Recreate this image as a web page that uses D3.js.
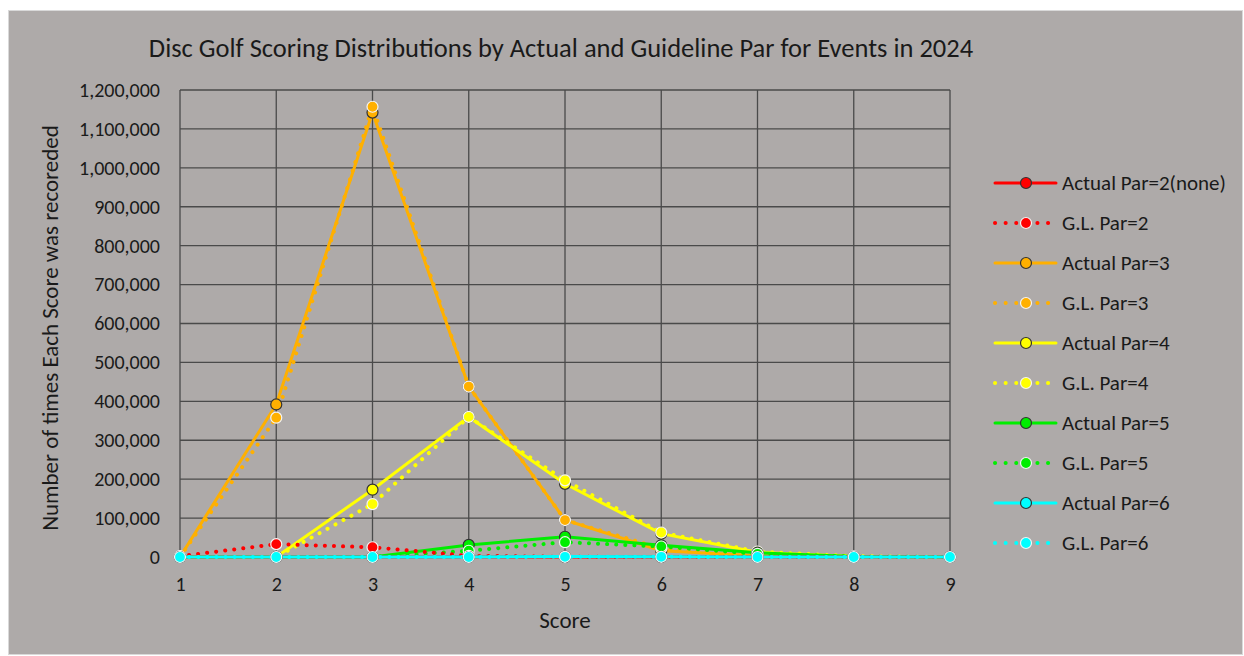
<!DOCTYPE html>
<html>
<head>
<meta charset="utf-8">
<script src="https://cdn.jsdelivr.net/npm/d3@7"></script>
<style>
  body { margin: 0; background: #fff; }
  text { font-family: Carlito, Calibri, Lato, sans-serif; fill: #1a1a1a; }
</style>
</head>
<body>
<svg id="chart"></svg>
<script>
// Data
const scores = [1, 2, 3, 4, 5, 6, 7, 8, 9];
const yTicks = [0, 100000, 200000, 300000, 400000, 500000, 600000, 700000, 800000, 900000, 1000000, 1100000, 1200000];

const actualPar2 = [0, 0, 0, 0, 0, 0, 0, 0, 0];
const glPar2 = [2000, 33000, 25000, 3000, 500, 0, 0, 0, 0];
const actualPar3 = [0, 392000, 1142000, 438000, 95000, 16000, 3000, 500, 0];
const glPar3 = [0, 358000, 1157000, 438000, 95000, 22000, 3000, 500, 0];
const actualPar4 = [0, 0, 173000, 360000, 188000, 60000, 12000, 1500, 0];
const glPar4 = [0, 0, 136000, 360000, 197000, 63000, 14000, 2000, 0];
const actualPar5 = [0, 0, 0, 31000, 52000, 30000, 11000, 1000, 0];
const glPar5 = [0, 0, 0, 16000, 38000, 27000, 8000, 1000, 0];
const actualPar6 = [0, 0, 0, 0, 1000, 500, 0, 0, 0];
const glPar6 = [0, 0, 0, 0, 500, 500, 0, 0, 0];

const series = [
  { name: 'Actual Par=2(none)', values: actualPar2, color: '#ff0000', dotted: false },
  { name: 'G.L. Par=2', values: glPar2, color: '#ff0000', dotted: true },
  { name: 'Actual Par=3', values: actualPar3, color: '#ffb000', dotted: false },
  { name: 'G.L. Par=3', values: glPar3, color: '#ffb000', dotted: true },
  { name: 'Actual Par=4', values: actualPar4, color: '#ffff00', dotted: false },
  { name: 'G.L. Par=4', values: glPar4, color: '#ffff00', dotted: true },
  { name: 'Actual Par=5', values: actualPar5, color: '#00ee00', dotted: false },
  { name: 'G.L. Par=5', values: glPar5, color: '#00ee00', dotted: true },
  { name: 'Actual Par=6', values: actualPar6, color: '#00ffff', dotted: false },
  { name: 'G.L. Par=6', values: glPar6, color: '#00ffff', dotted: true }
];

// Dimensions
const width = 1244;
const height = 656;
const plot = { left: 180, right: 950, top: 90, bottom: 557 };

const svg = d3.select('#chart')
  .attr('width', width)
  .attr('height', height);

// Chart background
svg.append('rect')
  .attr('x', 8.5).attr('y', 10.5)
  .attr('width', 1234).attr('height', 644)
  .attr('fill', '#aeaaa9')
  .attr('stroke', '#d9d9d9');

const x = d3.scaleLinear().domain([1, 9]).range([plot.left, plot.right]);
const y = d3.scaleLinear().domain([0, 1200000]).range([plot.bottom, plot.top]);

// Gridlines
svg.append('g')
  .selectAll('line.h')
  .data(yTicks)
  .enter().append('line')
  .attr('x1', plot.left).attr('x2', plot.right)
  .attr('y1', d => y(d)).attr('y2', d => y(d))
  .attr('stroke', '#4a4a4a').attr('stroke-width', 1.3);

svg.append('g')
  .selectAll('line.v')
  .data(scores)
  .enter().append('line')
  .attr('x1', d => x(d)).attr('x2', d => x(d))
  .attr('y1', plot.top).attr('y2', plot.bottom)
  .attr('stroke', '#4a4a4a').attr('stroke-width', 1.3);

// Axes
const fmt = d3.format(',');
const yAxis = svg.append('g')
  .attr('transform', `translate(${plot.left},0)`)
  .call(d3.axisLeft(y).tickValues(yTicks).tickFormat(fmt).tickSize(0).tickPadding(20));
yAxis.select('.domain').remove();
yAxis.selectAll('text').style('font-size', '20px');

const xAxis = svg.append('g')
  .attr('transform', `translate(0,${plot.bottom})`)
  .call(d3.axisBottom(x).tickValues(scores).tickFormat(d3.format('d')).tickSize(0).tickPadding(20));
xAxis.select('.domain').remove();
xAxis.selectAll('text').style('font-size', '20px');

// Titles
svg.append('text')
  .attr('x', 561).attr('y', 57)
  .attr('text-anchor', 'middle')
  .style('font-size', '26.5px')
  .text('Disc Golf Scoring Distributions by Actual and Guideline Par for Events in 2024');

svg.append('text')
  .attr('x', 565).attr('y', 628)
  .attr('text-anchor', 'middle')
  .style('font-size', '23px')
  .text('Score');

svg.append('text')
  .attr('transform', 'translate(58,328) rotate(-90)')
  .attr('text-anchor', 'middle')
  .style('font-size', '23px')
  .text('Number of times Each Score was recoreded');

// Lines
const line = d3.line()
  .x((d, i) => x(scores[i]))
  .y(d => y(d));

const drawOrder = [2, 3, 4, 5, 6, 7, 1, 0, 8, 9];
drawOrder.forEach(idx => {
  const s = series[idx];
  svg.append('path')
    .datum(s.values)
    .attr('d', line)
    .attr('fill', 'none')
    .attr('stroke', s.color)
    .attr('stroke-width', s.dotted ? 4 : 3)
    .attr('stroke-linecap', 'round')
    .attr('stroke-dasharray', s.dotted ? '0.1,9' : null);
});

drawOrder.forEach(idx => {
  const s = series[idx];
  svg.append('g')
    .selectAll('circle')
    .data(s.values)
    .enter().append('circle')
    .attr('cx', (d, i) => x(scores[i]))
    .attr('cy', d => y(d))
    .attr('r', 5.5)
    .attr('fill', s.color)
    .attr('stroke', s.dotted ? '#f4f4f4' : '#333')
    .attr('stroke-width', 1.2);
});

// Legend
const legend = svg.append('g').attr('transform', 'translate(993,183)');
series.forEach((s, i) => {
  const g = legend.append('g').attr('transform', `translate(0,${i * 40})`);
  g.append('line')
    .attr('x1', 2).attr('x2', 63)
    .attr('y1', 0).attr('y2', 0)
    .attr('stroke', s.color)
    .attr('stroke-width', s.dotted ? 4 : 3)
    .attr('stroke-linecap', 'round')
    .attr('stroke-dasharray', s.dotted ? '0.1,10.5' : null);
  g.append('circle')
    .attr('cx', 33).attr('cy', 0).attr('r', 5.5)
    .attr('fill', s.color)
    .attr('stroke', s.dotted ? '#f4f4f4' : '#333')
    .attr('stroke-width', 1.2);
  g.append('text')
    .attr('x', 69).attr('y', 7)
    .style('font-size', '21px')
    .text(s.name);
});
</script>
</body>
</html>
